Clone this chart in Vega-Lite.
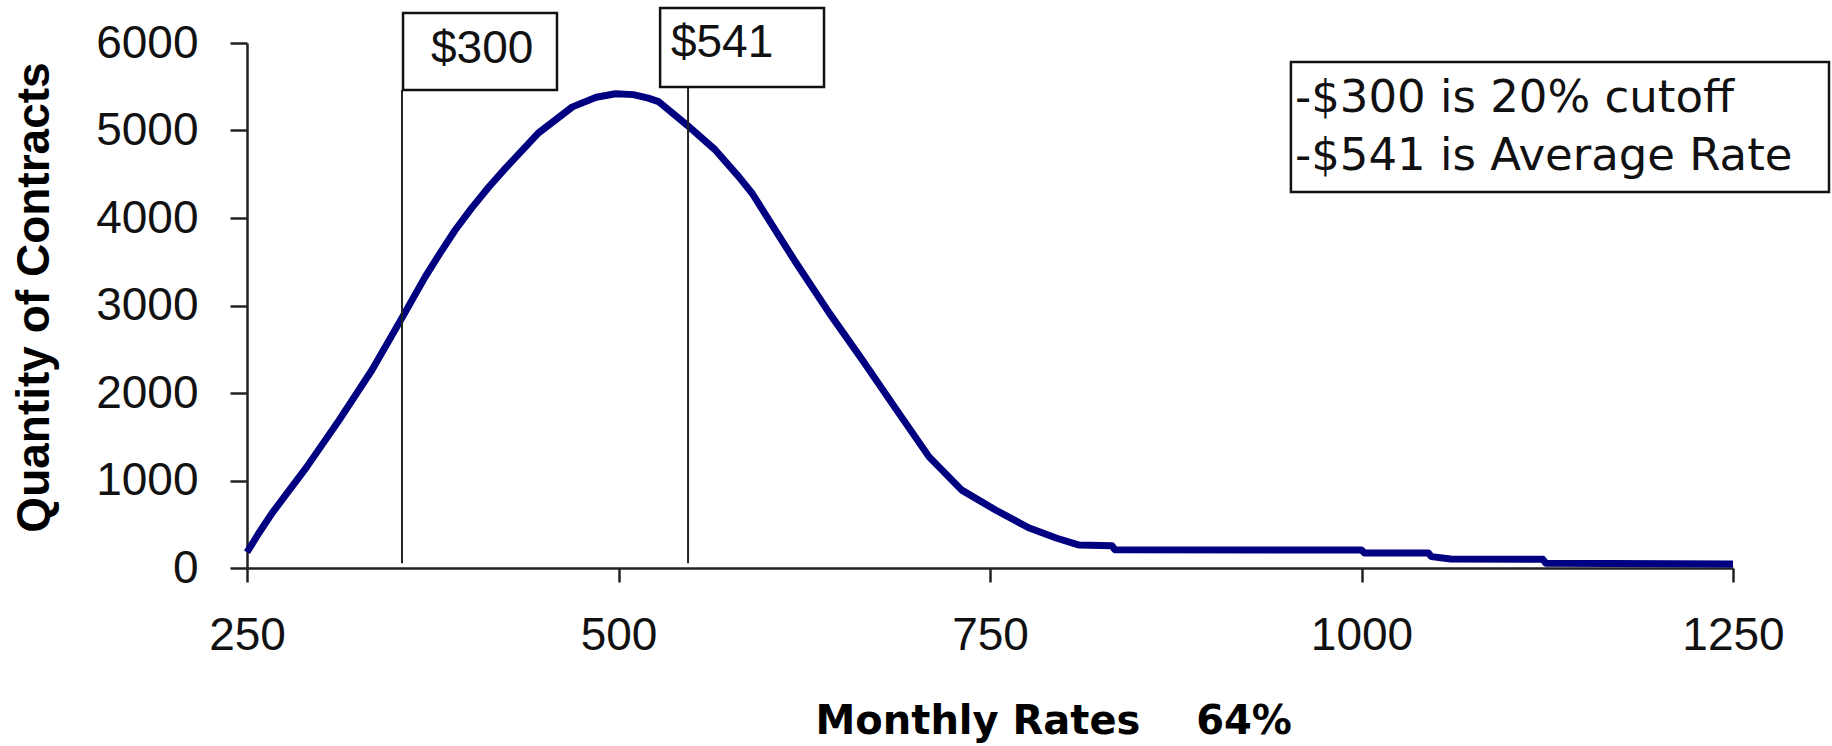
{
  "$schema": "https://vega.github.io/schema/vega-lite/v6.json",
  "width": 1486,
  "height": 525,
  "autosize": {"type": "none"},
  "padding": {"left": 247, "top": 43, "right": 99, "bottom": 178},
  "background": "white",
  "config": {"view": {"stroke": null}},
  "datasets": {
    "curve": [
      {"rate": 250, "qty": 180},
      {"rate": 258, "qty": 400},
      {"rate": 267, "qty": 630},
      {"rate": 290, "qty": 1150},
      {"rate": 312, "qty": 1690},
      {"rate": 334, "qty": 2260},
      {"rate": 354, "qty": 2850},
      {"rate": 370, "qty": 3330},
      {"rate": 380, "qty": 3600},
      {"rate": 390, "qty": 3860},
      {"rate": 401, "qty": 4110},
      {"rate": 413, "qty": 4360},
      {"rate": 424, "qty": 4570},
      {"rate": 446, "qty": 4970},
      {"rate": 469, "qty": 5270},
      {"rate": 485, "qty": 5380},
      {"rate": 498, "qty": 5420},
      {"rate": 510, "qty": 5410},
      {"rate": 520, "qty": 5370},
      {"rate": 527, "qty": 5330},
      {"rate": 546, "qty": 5063},
      {"rate": 565, "qty": 4780},
      {"rate": 581, "qty": 4470},
      {"rate": 590, "qty": 4280},
      {"rate": 605, "qty": 3877},
      {"rate": 619, "qty": 3500},
      {"rate": 642, "qty": 2910},
      {"rate": 664, "qty": 2380},
      {"rate": 687, "qty": 1810},
      {"rate": 709, "qty": 1270},
      {"rate": 731, "qty": 890},
      {"rate": 754, "qty": 660},
      {"rate": 776, "qty": 460},
      {"rate": 795, "qty": 340},
      {"rate": 810, "qty": 262},
      {"rate": 832, "qty": 255},
      {"rate": 834, "qty": 210},
      {"rate": 1000, "qty": 205},
      {"rate": 1002, "qty": 172},
      {"rate": 1045, "qty": 172},
      {"rate": 1047, "qty": 130},
      {"rate": 1060, "qty": 103},
      {"rate": 1122, "qty": 100},
      {"rate": 1124, "qty": 55},
      {"rate": 1250, "qty": 45}
    ],
    "markers": [
      {"x": 354.3, "y0": 55, "y1": 5463},
      {"x": 546.8, "y0": 55, "y1": 5497}
    ],
    "boxes": [
      {"x1": 355, "x2": 458.6, "y1": 5463, "y2": 6343},
      {"x1": 528, "x2": 638.3, "y1": 5497, "y2": 6400},
      {"x1": 952.5, "x2": 1314.6, "y1": 4297, "y2": 5783}
    ],
    "boxLabels": [
      {"x": 373.8, "y": 5771, "t": "$300"},
      {"x": 535.3, "y": 5840, "t": "$541"}
    ],
    "legendText": [
      {"x": 955.2, "y": 5211, "t": "-$300 is 20% cutoff"},
      {"x": 955.2, "y": 4549, "t": "-$541 is Average Rate"}
    ]
  },
  "layer": [
    {
      "data": {"name": "curve"},
      "mark": {"type": "line", "color": "#000080", "strokeWidth": 7, "strokeJoin": "round", "strokeCap": "butt"},
      "encoding": {
        "x": {
          "field": "rate", "type": "quantitative",
          "scale": {"domain": [250, 1250], "nice": false, "zero": false},
          "axis": {
            "values": [250, 500, 750, 1000, 1250],
            "format": "d",
            "grid": false,
            "domainColor": "#222", "domainWidth": 2.5,
            "tickColor": "#222", "tickWidth": 2.5, "tickSize": 14,
            "labelFont": "Liberation Sans", "labelFontSize": 46, "labelColor": "#111",
            "labelPadding": 31, "labelFlush": false, "labelOverlap": false,
            "title": "Monthly Rates\u00a0\u00a0\u00a0\u00a064%",
            "titleFont": "DejaVu Sans", "titleFontSize": 40, "titleFontWeight": "bold", "titleColor": "#000",
            "titleAlign": "left", "titleAnchor": "start", "titleX": 568, "titleY": 165, "titleBaseline": "alphabetic"
          }
        },
        "y": {
          "field": "qty", "type": "quantitative",
          "scale": {"domain": [0, 6000], "nice": false},
          "axis": {
            "values": [0, 1000, 2000, 3000, 4000, 5000, 6000],
            "format": "d",
            "grid": false,
            "domainColor": "#222", "domainWidth": 2.5,
            "tickColor": "#222", "tickWidth": 2.5, "tickSize": 17,
            "labelFont": "Liberation Sans", "labelFontSize": 46, "labelColor": "#111",
            "labelPadding": 32, "labelFlush": false, "labelOverlap": false,
            "title": "Quantity of Contracts",
            "titleFont": "Liberation Sans", "titleFontSize": 46, "titleFontWeight": "bold", "titleColor": "#000",
            "titleAngle": 270, "titleAlign": "center", "titleX": -199, "titleY": 254, "titleBaseline": "alphabetic"
          }
        }
      }
    },
    {
      "data": {"name": "markers"},
      "mark": {"type": "rule", "color": "#222", "strokeWidth": 2},
      "encoding": {
        "x": {"field": "x", "type": "quantitative"},
        "y": {"field": "y0", "type": "quantitative"},
        "y2": {"field": "y1"}
      }
    },
    {
      "data": {"name": "boxes"},
      "mark": {"type": "rect", "fill": "white", "stroke": "#111", "strokeWidth": 2.5},
      "encoding": {
        "x": {"field": "x1", "type": "quantitative"},
        "x2": {"field": "x2"},
        "y": {"field": "y1", "type": "quantitative"},
        "y2": {"field": "y2"}
      }
    },
    {
      "data": {"name": "boxLabels"},
      "mark": {"type": "text", "font": "Liberation Sans", "fontSize": 46, "align": "left", "baseline": "alphabetic", "color": "#111"},
      "encoding": {
        "x": {"field": "x", "type": "quantitative"},
        "y": {"field": "y", "type": "quantitative"},
        "text": {"field": "t"}
      }
    },
    {
      "data": {"name": "legendText"},
      "mark": {"type": "text", "font": "DejaVu Sans", "fontSize": 45, "align": "left", "baseline": "alphabetic", "color": "#111"},
      "encoding": {
        "x": {"field": "x", "type": "quantitative"},
        "y": {"field": "y", "type": "quantitative"},
        "text": {"field": "t"}
      }
    }
  ]
}
